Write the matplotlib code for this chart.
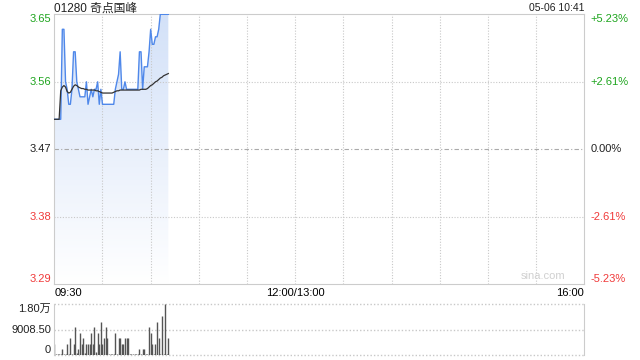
"""Intraday minute chart for 01280 (price, average price, volume)."""
import matplotlib

matplotlib.use("Agg")
import matplotlib.pyplot as plt
import numpy as np
from matplotlib.colors import LinearSegmentedColormap

plt.rcParams["font.family"] = ["Liberation Sans", "Noto Sans CJK SC", "DejaVu Sans"]

TITLE = "01280 奇点国峰"
STAMP = "05-06 10:41"
PREV_CLOSE = 3.47
TOTAL_MIN = 330  # 09:30-12:00 + 13:00-16:00

price_ticks = [3.29, 3.38, 3.47, 3.56, 3.65]
price_labels = ["3.29", "3.38", "3.47", "3.56", "3.65"]
pct_labels = ["-5.23%", "-2.61%", "0.00%", "+2.61%", "+5.23%"]
time_ticks = [0, 150, 330]
time_labels = ["09:30", "12:00/13:00", "16:00"]
vol_ticks = [0, 9008.5, 18017]
vol_labels = ["0", "9008.50", "1.80万"]

# one value per minute from 09:30 to 10:41
prices = [
    3.51, 3.51, 3.51, 3.51, 3.51, 3.63, 3.63, 3.56, 3.55, 3.53,
    3.53, 3.55, 3.60, 3.60, 3.56, 3.55, 3.54, 3.54, 3.54, 3.54,
    3.56, 3.53, 3.54, 3.55, 3.54, 3.55, 3.55, 3.56, 3.53, 3.55,
    3.53, 3.53, 3.53, 3.53, 3.53, 3.53, 3.53, 3.53, 3.55, 3.56,
    3.57, 3.60, 3.55, 3.55, 3.56, 3.55, 3.55, 3.55, 3.55, 3.55,
    3.55, 3.55, 3.55, 3.60, 3.60, 3.55, 3.58, 3.58, 3.58, 3.60,
    3.63, 3.61, 3.61, 3.62, 3.62, 3.63, 3.65, 3.65, 3.65, 3.65,
    3.65, 3.65,
]
avg_prices = [
    3.510, 3.510, 3.510, 3.510, 3.548, 3.553, 3.555, 3.553, 3.547, 3.545,
    3.546, 3.550, 3.554, 3.556, 3.555, 3.553, 3.552, 3.551, 3.551, 3.550,
    3.550, 3.549, 3.549, 3.549, 3.549, 3.549, 3.548, 3.548, 3.547, 3.546,
    3.545, 3.545, 3.545, 3.545, 3.545, 3.545, 3.545, 3.546, 3.547, 3.548,
    3.548, 3.549, 3.549, 3.549, 3.549, 3.549, 3.549, 3.549, 3.549, 3.549,
    3.549, 3.549, 3.549, 3.549, 3.550, 3.550, 3.550, 3.550, 3.551, 3.553,
    3.555, 3.556, 3.558, 3.560, 3.561, 3.563, 3.565, 3.566, 3.568, 3.569,
    3.570, 3.571,
]
volumes = [
    3900, 300, 250, 350, 200, 2200, 300, 400, 3900, 200,
    6000, 500, 3900, 9900, 600, 2200, 7800, 3900, 6000, 800,
    3900, 3900, 3900, 7800, 3900, 9900, 1200, 7800, 3900, 11700,
    3900, 6000, 9900, 6000, 300, 200, 300, 200, 7800, 400,
    6000, 6000, 3900, 3900, 6000, 6000, 6000, 300, 200, 300,
    200, 300, 200, 2200, 400, 2200, 2200, 300, 400, 9900,
    7800, 3900, 400, 3900, 11700, 6000, 300, 14000, 500, 18017,
    400, 6000,
]

UP = "#1ea51e"
DOWN = "#f03a3a"
GRID = "#c8c8c8"
SPINE = "#cccccc"

fig = plt.figure(figsize=(6.4, 3.6), dpi=100)
ax = fig.add_axes([54.3 / 640, 1 - 284.3 / 360, 530 / 640, 270 / 360])
axv = fig.add_axes([54.3 / 640, 1 - 355 / 360, 530 / 640, 50.7 / 360])

x = np.arange(len(prices))
lo, hi = price_ticks[0], price_ticks[-1]

# gradient fill under the price line
fill = ax.fill_between(x, prices, lo, color="none", lw=0)
cmap = LinearSegmentedColormap.from_list("fade", ["#ffffff", "#d3e1f8"])
grad = np.linspace(0, 1, 256).reshape(-1, 1)
img = ax.imshow(grad, cmap=cmap, aspect="auto", origin="lower",
                extent=[0, x[-1], lo, hi], zorder=1)
img.set_clip_path(fill.get_paths()[0], transform=ax.transData)

ax.plot(x, prices, color="#4f88ea", lw=1.0, zorder=3)
ax.plot(x, avg_prices, color="#333333", lw=0.9, zorder=4)

ax.set_xlim(0, TOTAL_MIN)
ax.set_ylim(lo, hi)
for m in range(30, TOTAL_MIN, 30):
    ax.axvline(m, color=GRID, lw=0.8, ls=(0, (1, 1.5)), zorder=2)
for p in price_ticks[1:-1]:
    if p == PREV_CLOSE:
        ax.axhline(p, color="#aaaaaa", lw=0.8, ls=(0, (4, 2, 1, 2)), zorder=2)
    else:
        ax.axhline(p, color=GRID, lw=0.8, ls=(0, (1, 1.5)), zorder=2)

for s in ax.spines.values():
    s.set_color(SPINE)
ax.tick_params(length=0, labelsize=8, pad=3)
ax.set_xticks(time_ticks)
ax.set_xticklabels(time_labels)
for lbl, ha in zip(ax.get_xticklabels(), ["left", "center", "right"]):
    lbl.set_ha(ha)
ax.set_yticks([])

# price labels on both sides, coloured against the previous close
n = len(price_ticks)
for i, (p, lab, pct) in enumerate(zip(price_ticks, price_labels, pct_labels)):
    col = UP if p > PREV_CLOSE else DOWN if p < PREV_CLOSE else "#222222"
    va = "bottom" if i == 0 else "top" if i == n - 1 else "center"
    ax.text(-0.006, p, lab, transform=ax.get_yaxis_transform(), ha="right",
            va=va, fontsize=8, color=col)
    ax.text(1.012, p, pct, transform=ax.get_yaxis_transform(), ha="left",
            va=va, fontsize=8, color=col)

ax.text(0, 1.009, TITLE, transform=ax.transAxes, ha="left", va="baseline",
        fontsize=8.5, color="#222222")
ax.text(1, 1.011, STAMP, transform=ax.transAxes, ha="right", va="baseline",
        fontsize=7.5, color="#222222")
ax.text(0.965, 0.012, "sina.com", transform=ax.transAxes, ha="right",
        va="bottom", fontsize=8, color="#d0d0d0")

# volume panel
axv.vlines(x, 0, volumes, color="#555555", lw=1.0, zorder=2)
axv.set_xlim(0, TOTAL_MIN)
axv.set_ylim(0, vol_ticks[-1])
for v in vol_ticks:
    axv.axhline(v, color=GRID, lw=1.0, ls=(0, (1, 1.5)), zorder=0,
                clip_on=False)
axv.spines["top"].set_visible(False)
axv.spines["bottom"].set_visible(False)
axv.spines["left"].set_color(SPINE)
axv.spines["right"].set_color(SPINE)
axv.set_xticks([])
axv.set_yticks([])
for i, (v, lab) in enumerate(zip(vol_ticks, vol_labels)):
    va = "bottom" if i == 0 else "top" if i == len(vol_ticks) - 1 else "center"
    axv.text(-0.006, v, lab, transform=axv.get_yaxis_transform(), ha="right",
             va=va, fontsize=8, color="#222222")

fig.savefig("out.png", dpi=100)
